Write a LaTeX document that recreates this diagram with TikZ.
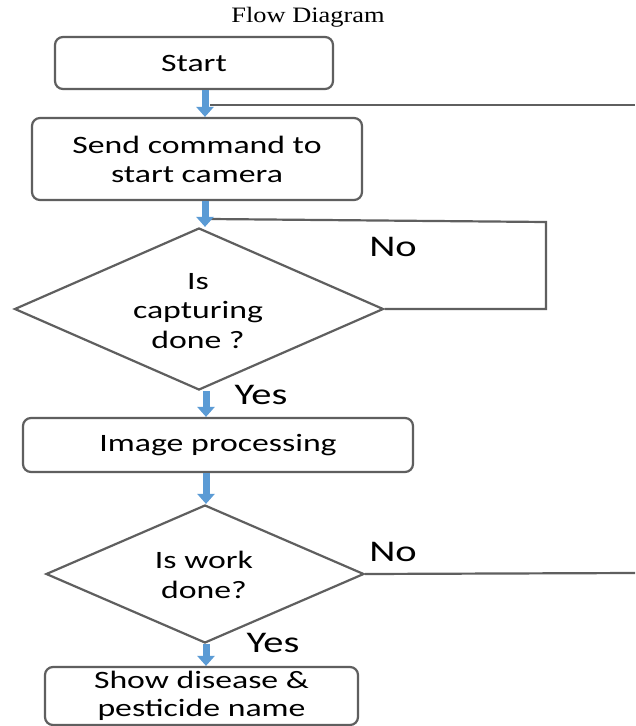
\documentclass[tikz,border=0pt]{standalone}
\usepackage{fontspec}
\setmainfont{Carlito}
\newfontfamily\titlefont{Liberation Serif}
\usepackage{graphicx}
\usetikzlibrary{shapes.geometric,arrows.meta}
\definecolor{flowblue}{RGB}{91,155,213}
\definecolor{linegray}{RGB}{95,95,95}
\newcommand{\hs}[1]{\scalebox{1.35}[1]{#1}}
\begin{document}
\begin{tikzpicture}[x=1pt,y=-1pt,
  box/.style={draw=linegray, line width=2.2pt, rounded corners=8pt, inner sep=0pt,
    align=center, font=\fontsize{25}{29}\selectfont},
  dec/.style={draw=linegray, line width=2.2pt, diamond, inner sep=0pt},
  dtext/.style={inner sep=0pt, align=center, font=\fontsize{25}{29.5}\selectfont},
  conn/.style={draw=linegray, line width=2.2pt},
  barrow/.style={draw=flowblue, line width=7pt, -{Triangle[width=17pt,length=10pt]}},
  lbl/.style={font=\fontsize{30}{30}\selectfont, inner sep=0pt}]
\useasboundingbox (0,0) rectangle (635,726);
\fill[white] (0,0) rectangle (635,726);

\node[font=\titlefont\fontsize{22}{22}\selectfont, inner sep=0pt] (title) at (308,17) {\scalebox{1.2}[1]{Flow Diagram}};

\node[box, minimum width=278pt, minimum height=52pt] (start) at (194,63) {\hs{Start}};
\node[box, minimum width=330pt, minimum height=82pt] (send) at (197,159) {\hs{Send command to}\\\hs{start camera}};
\node[dec, minimum width=369pt, minimum height=162pt] (d1) at (199,309) {};
\node[dtext] (d1t) at (198,311) {\hs{Is}\\\hs{capturing}\\\hs{done ?}};
\node[box, minimum width=390pt, minimum height=54pt] (img) at (218,445) {\hs{Image processing}};
\node[dec, minimum width=318pt, minimum height=138pt] (d2) at (205,574) {};
\node[dtext] (d2t) at (204,575) {\hs{Is work}\\\hs{done?}};
\node[box, minimum width=313pt, minimum height=58pt, font=\fontsize{25}{28}\selectfont] (show) at (201.5,696) {\hs{Show disease \&}\\\hs{pesticide name}};

\node[lbl] (no1) at (393,247) {\hs{No}};
\node[lbl] (yes1) at (261,395) {\hs{Yes}};
\node[lbl] (no2) at (393,552) {\hs{No}};
\node[lbl] (yes2) at (273,643) {\hs{Yes}};

\coordinate (ax) at (205,0);
\coordinate (bx) at (206,0);
\coordinate (fbL) at (210,105);
\coordinate (fbR) at (635,105);
\coordinate (loopL) at (210,219);
\coordinate (loopR) at (546,222);
\coordinate (noR) at (635,573);

\draw[conn] (fbL) -- (fbR);
\draw[conn] (d1.east) -| (loopR) -- (loopL);
\draw[conn] (d2.east) -- (noR);

\draw[barrow] (start.south -| ax) -- (send.north -| ax);
\draw[barrow] (send.south -| ax) -- (d1.north -| ax);
\draw[barrow] (d1.south -| bx) -- (img.north -| bx);
\draw[barrow] (img.south -| bx) -- (d2.north -| bx);
\draw[barrow] (d2.south -| bx) -- (show.north -| bx);
\end{tikzpicture}
\end{document}
